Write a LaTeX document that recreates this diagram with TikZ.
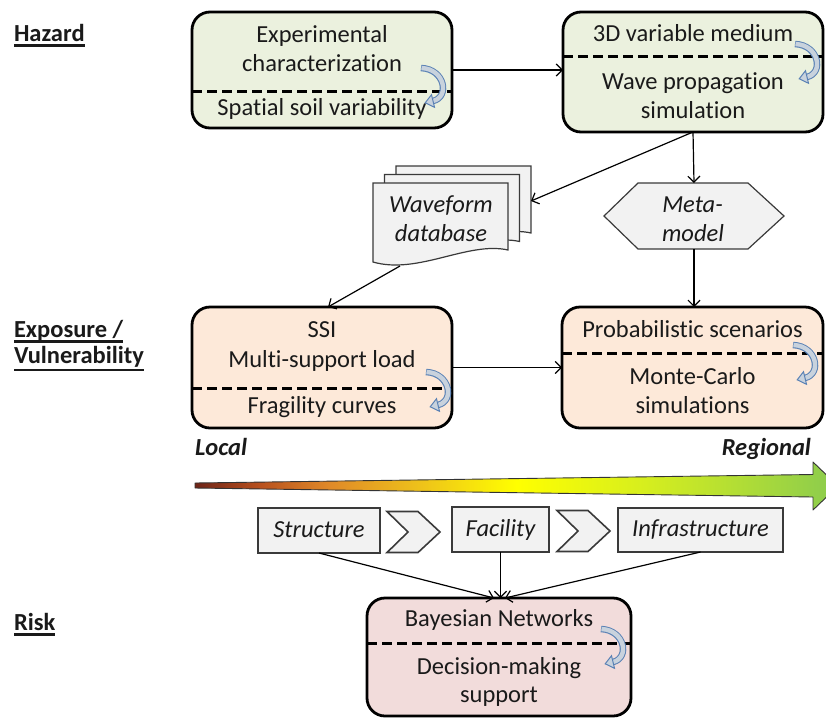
\documentclass[tikz,border=0pt]{standalone}
\usepackage{fontspec}
\setmainfont{Carlito}[Ligatures=NoCommon]
\usetikzlibrary{arrows.meta,calc}
\definecolor{hzfill}{HTML}{EBF1DE}
\definecolor{exfill}{HTML}{FDE9D9}
\definecolor{rkfill}{HTML}{F2DCDB}
\definecolor{grfill}{HTML}{F2F2F2}
\definecolor{ublue}{HTML}{5B82B5}
\definecolor{ufill}{HTML}{C8D2DD}
\definecolor{txt}{HTML}{1A1A1A}
\definecolor{dgray}{HTML}{3A3A3A}
\definecolor{g0}{HTML}{6E2418}
\definecolor{g1}{HTML}{B8501E}
\definecolor{g2}{HTML}{E08A28}
\definecolor{g3}{HTML}{EEC21A}
\definecolor{g4}{HTML}{FFFF00}
\definecolor{g5}{HTML}{D6EE1E}
\definecolor{g6}{HTML}{8ACB4E}
\pgfdeclarehorizontalshading{gradarrow}{100bp}{color(0bp)=(g0); color(25bp)=(g0); color(30bp)=(g1); color(35.5bp)=(g2); color(42.5bp)=(g3); color(50bp)=(g4); color(60bp)=(g5); color(75bp)=(g6); color(100bp)=(g6)}
\newcommand\ulbar[2]{\setbox0\hbox{#2}\rlap{\rule[-#1]{\wd0}{2.2pt}}\box0}
\begin{document}
\begin{tikzpicture}[x=1pt,y=-1pt,
  every node/.style={font=\fontsize{24.5}{29.5}\selectfont, text=txt, inner sep=0pt, outer sep=0pt},
  mainbox/.style={draw=black, line width=2.8pt, rounded corners=18pt},
  dashline/.style={line width=3pt, dash pattern=on 10pt off 5pt},
  conn/.style={line width=1.2pt, -{Straight Barb[length=6pt,width=12pt]}},
  docshape/.style={fill=grfill, draw=dgray, line width=1.2pt},
  chevstyle/.style={fill=grfill, draw=dgray, line width=1.6pt},
  smallbox/.style={draw=dgray, fill=grfill, line width=1.6pt, font=\fontsize{24.5}{29.5}\selectfont\itshape, text height=17pt, text depth=4pt},
  bt/.style={anchor=base},
  it/.style={anchor=base, font=\fontsize{24.5}{29.5}\selectfont\itshape},
  lbl/.style={anchor=base west, font=\fontsize{24.5}{29.5}\selectfont\bfseries},
  scalelbl/.style={font=\fontsize{24.5}{29.5}\selectfont\bfseries\itshape},
  uturn/.pic={
    \draw[line width=6.5pt, ublue] (-26,-21) .. controls (-2,-20) and (3,8) .. (-14,12);
    \draw[line width=4.4pt, ufill] (-25.5,-21) .. controls (-2,-20) and (3,8) .. (-14,12);
    \filldraw[fill=ufill, draw=ublue, line width=1pt] (-12.5,18.3) -- (-21.8,13.8) -- (-15.5,5.7) -- cycle;
  },
  docpage/.pic={
    \filldraw[docshape] (0,0) -- (135,0) -- (135,67) .. controls (95,58) and (45,92) .. (0,79) -- cycle;
  },
  chev/.pic={
    \filldraw[chevstyle] (0,0) -- (31,0) -- (53,20.5) -- (31,41) -- (0,41) -- (21,20.5) -- cycle;
  }
]
\useasboundingbox (0,0) rectangle (826,718);

% left labels
\node[lbl] (lhz) at (14,41) {\ulbar{5.5pt}{Hazard}};
\node[lbl] (lex) at (14,337) {\ulbar{5.5pt}{Exposure /}};
\node[lbl] (lvu) at (14,363) {\ulbar{8pt}{Vulnerability}};
\node[lbl] (lrk) at (14,630) {\ulbar{5.5pt}{Risk}};

% main boxes
\node[mainbox, fill=hzfill, minimum width=260pt, minimum height=116pt] (b1) at (322,70) {};
\node[mainbox, fill=hzfill, minimum width=260pt, minimum height=120pt] (b2) at (693,72) {};
\node[mainbox, fill=exfill, minimum width=260pt, minimum height=121pt] (b3) at (322,367.5) {};
\node[mainbox, fill=exfill, minimum width=261pt, minimum height=121pt] (b4) at (692.5,367.5) {};
\node[mainbox, fill=rkfill, minimum width=264pt, minimum height=118pt] (b5) at (499,657) {};

\draw[dashline] (b1.west) ++(0,21) -- ++(260,0);
\draw[dashline] (b2.west) ++(0,-16) -- ++(260,0);
\draw[dashline] (b3.west) ++(0,20.5) -- ++(260,0);
\draw[dashline] (b4.west) ++(0,-14.5) -- ++(261,0);
\draw[dashline] (b5.west) ++(0,-14) -- ++(264,0);

% box texts
\node[bt] (t1a) at (322,42) {Experimental};
\node[bt] (t1b) at (322,71.5) {characterization};
\node[bt] (t1c) at (322,115) {Spatial soil variability};
\node[bt] (t2a) at (693,41) {3D variable medium};
\node[bt] (t2b) at (693,89) {Wave propagation};
\node[bt] (t2c) at (693,118) {simulation};
\node[bt] (t3a) at (322,337.5) {SSI};
\node[bt] (t3b) at (322,367.5) {Multi-support load};
\node[bt] (t3c) at (322,413) {Fragility curves};
\node[bt] (t4a) at (692.5,337.5) {Probabilistic scenarios};
\node[bt] (t4b) at (692.5,384.5) {Monte-Carlo};
\node[bt] (t4c) at (692.5,413.5) {simulations};
\node[bt] (t5a) at (499,626.5) {Bayesian Networks};
\node[bt] (t5b) at (499,674) {Decision-making};
\node[bt] (t5c) at (499,702) {support};

% u-turn arrows
\pic at (447,89) {uturn};
\pic at (821,65) {uturn};
\pic at (452,393) {uturn};
\pic at (819,366) {uturn};
\pic at (627,650) {uturn};

% waveform database
\pic at (396,166) {docpage};
\pic at (384.5,174.5) {docpage};
\pic at (373,183) {docpage};
\node[it] (wv1) at (441,212) {Waveform};
\node[it] (wv2) at (441,241) {database};
\coordinate (wvin) at (531,201);
\coordinate (wvout) at (400,266);

% meta-model hexagon
\filldraw[docshape] (604,216) -- (638,183) -- (748,183) -- (784,216) -- (748,249) -- (638,249) -- cycle;
\node[it] (mm1) at (692.5,212) {Meta-};
\node[it] (mm2) at (693,241) {model};
\coordinate (mtop) at (694,183);
\coordinate (mbot) at (694,249);

% connectors
\draw[conn] (b1.east) -- (b1.east -| b2.west);
\draw[conn] (b2.south) -- (wvin);
\draw[conn] (b2.south) -- (mtop);
\draw[conn] (wvout) -- ($(b3.north)+(6,0)$);
\draw[conn] (mbot) -- (mbot |- b4.north);
\draw[conn] (b3.east) -- (b3.east -| b4.west);

% scale labels
\node[scalelbl, anchor=base west] (loc) at (195,455) {Local};
\node[scalelbl, anchor=base east] (reg) at (811,455) {Regional};

% gradient arrow
\shade[shading=gradarrow, draw=black!80, line width=0.9pt, line join=round]
  (195,483) -- (813,474.5) -- (813,462) -- (838,486) -- (813,510) -- (813,497) -- (195,488) -- cycle;

% structure / facility / infrastructure
\node[smallbox, minimum width=122pt, minimum height=45pt] (s1) at (319,530.5) {Structure};
\node[smallbox, minimum width=97pt, minimum height=45pt] (s2) at (500.5,529.5) {Facility};
\node[smallbox, minimum width=165pt, minimum height=44pt] (s3) at (700.5,530) {Infrastructure};
\pic at (387,511.5) {chev};
\pic at (557,510.5) {chev};

\draw[conn] (s1.south) -- ($(b5.north)+(-5,0)$);
\draw[conn] (s2.south) -- (s2.south |- b5.north);
\draw[conn] (s3.south) -- ($(b5.north)+(6,0)$);
\end{tikzpicture}
\end{document}
